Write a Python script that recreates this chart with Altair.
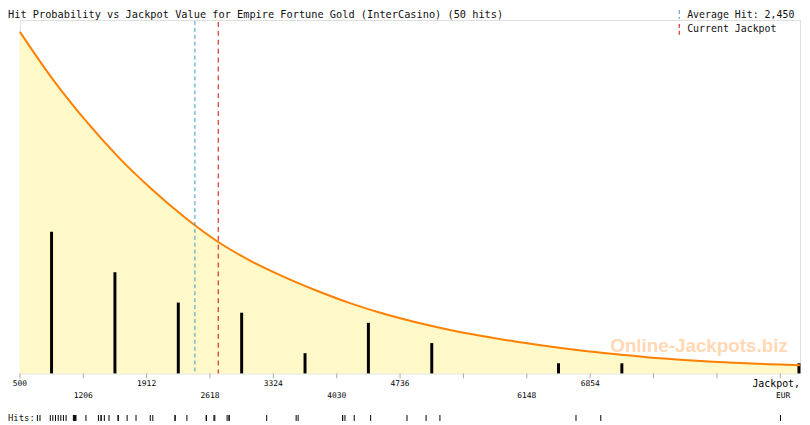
import altair as alt
import pandas as pd

title_text = "Hit Probability vs Jackpot Value for Empire Fortune Gold (InterCasino) (50 hits)"
x_domain = [500, 9192]
y_domain = [0, 34.93]

tick_values = [500, 1206, 1912, 2618, 3324, 4030, 4736, 5442, 6148, 6854, 7560, 8266, 8972]
labels_row1 = [500, 1912, 3324, 4736, 6854]
labels_row2 = [1206, 2618, 4030, 6148]

bin_centers = [853, 1559, 2265, 2971, 3677, 4383, 5089, 6501, 7207, 9180]
bin_counts = [14, 10, 7, 6, 2, 5, 3, 1, 1, 1]

curve_x = [500, 867, 1236, 1603, 1970, 2339, 2706, 3074, 3442, 3809, 4177, 4545,
           4912, 5280, 5648, 6016, 6383, 6751, 7119, 7486, 7854, 8222, 8589, 8957, 9192]
curve_y = [33.76, 29.06, 24.95, 21.33, 18.20, 15.41, 13.01, 11.11, 9.54, 8.17, 6.95,
           5.92, 5.06, 4.32, 3.70, 3.16, 2.68, 2.26, 1.91, 1.60, 1.36, 1.15, 1.00, 0.88, 0.80]

hits = [695, 724, 839, 867, 897, 927, 956, 985, 1015, 1096, 1103, 1110, 1118, 1125,
        1236, 1375, 1405, 1405, 1441, 1493, 1595, 1595, 1695, 1794,
        1953, 1981, 2229, 2229, 2361, 2577, 2577,
        2662, 2672, 2809, 2831, 2831, 3250,
        3578, 3600,
        4096, 4096, 4122, 4225, 4408,
        4813, 5026, 5180,
        6696, 6972, 8975]

average_hit = 2450
current_jackpot = 2710
legend_avg = "Average Hit: 2,450"
legend_cur = "Current Jackpot"
watermark = "Online-Jackpots.biz"

MONO = "DejaVu Sans Mono"
GRAY = "#aaaaaa"
W, H = 788, 357

xs = alt.Scale(domain=x_domain, nice=False, zero=False)
ys = alt.Scale(domain=y_domain, nice=False, zero=True)

curve_df = pd.DataFrame({"x": curve_x, "y": curve_y})
bars_df = pd.DataFrame({"x": bin_centers, "n": bin_counts})

area = alt.Chart(curve_df).mark_area(color="#FFF8C8", interpolate="monotone").encode(
    x=alt.X("x:Q", scale=xs, axis=None), y=alt.Y("y:Q", scale=ys, axis=None))

wm = alt.Chart(pd.DataFrame({"t": [watermark]})).mark_text(
    font="Liberation Sans", fontWeight="bold", fontSize=19, color="#FFD8B4",
    align="center", baseline="middle").encode(
    x=alt.value(686), y=alt.value(329), text="t:N")

bars = alt.Chart(bars_df).mark_rule(color="black", strokeWidth=3).encode(
    x=alt.X("x:Q", scale=xs, axis=None), y=alt.Y("n:Q", scale=ys, axis=None),
    y2=alt.datum(0))

line = alt.Chart(curve_df).mark_line(color="#FF8000", strokeWidth=2, interpolate="monotone").encode(
    x=alt.X("x:Q", scale=xs, axis=None), y=alt.Y("y:Q", scale=ys, axis=None))

avg_rule = alt.Chart(pd.DataFrame({"x": [average_hit]})).mark_rule(
    color="#3C96C8", strokeDash=[4, 3], strokeWidth=1).encode(
    x=alt.X("x:Q", scale=xs, axis=None), y=alt.value(1), y2=alt.value(H))

cur_rule = alt.Chart(pd.DataFrame({"x": [current_jackpot]})).mark_rule(
    color="#DD0000", strokeDash=[5, 4], strokeWidth=1).encode(
    x=alt.X("x:Q", scale=xs, axis=None), y=alt.value(2), y2=alt.value(H))

ticks = alt.Chart(pd.DataFrame({"x": tick_values})).mark_rule(color=GRAY).encode(
    x=alt.X("x:Q", scale=xs, axis=None), y=alt.value(H), y2=alt.value(H + 5))

lab1 = alt.Chart(pd.DataFrame({"x": labels_row1})).mark_text(
    font=MONO, fontSize=8, color="black", baseline="middle", align="center").encode(
    x=alt.X("x:Q", scale=xs, axis=None), y=alt.value(368), text=alt.Text("x:Q", format="d"))

lab2 = alt.Chart(pd.DataFrame({"x": labels_row2})).mark_text(
    font=MONO, fontSize=8, color="black", baseline="middle", align="center").encode(
    x=alt.X("x:Q", scale=xs, axis=None), y=alt.value(380), text=alt.Text("x:Q", format="d"))

jack = alt.Chart(pd.DataFrame({"t": ["Jackpot,"]})).mark_text(
    font=MONO, fontSize=10, color="black", baseline="middle", align="right").encode(
    x=alt.value(788), y=alt.value(367.5), text="t:N")

eur = alt.Chart(pd.DataFrame({"t": ["EUR"]})).mark_text(
    font=MONO, fontSize=8, color="black", baseline="middle", align="center").encode(
    x=alt.value(771), y=alt.value(380), text="t:N")

title = alt.Chart(pd.DataFrame({"t": [title_text]})).mark_text(
    font=MONO, fontSize=10.4, color="#111111", baseline="alphabetic", align="left").encode(
    x=alt.value(-12), y=alt.value(-2), text="t:N")

leg_avg_line = alt.Chart(pd.DataFrame({"t": [legend_avg]})).mark_rule(
    color="#3C96C8", strokeDash=[4, 3]).encode(
    x=alt.value(666), y=alt.value(-10), y2=alt.value(-1))
leg_cur_line = alt.Chart(pd.DataFrame({"t": [legend_cur]})).mark_rule(
    color="#DD0000", strokeDash=[4, 3]).encode(
    x=alt.value(666), y=alt.value(4), y2=alt.value(16))
leg_avg_txt = alt.Chart(pd.DataFrame({"t": [legend_avg]})).mark_text(
    font=MONO, fontSize=10, color="#111111", baseline="alphabetic", align="left").encode(
    x=alt.value(674), y=alt.value(-2), text="t:N")
leg_cur_txt = alt.Chart(pd.DataFrame({"t": [legend_cur]})).mark_text(
    font=MONO, fontSize=10, color="#111111", baseline="middle", align="left").encode(
    x=alt.value(674), y=alt.value(9), text="t:N")

hit_ticks = alt.Chart(pd.DataFrame({"x": hits})).mark_rule(color="black", strokeWidth=1).encode(
    x=alt.X("x:Q", scale=xs, axis=None), y=alt.value(399), y2=alt.value(405))
hits_lbl = alt.Chart(pd.DataFrame({"t": ["Hits:"]})).mark_text(
    font=MONO, fontSize=9, color="#111111", baseline="middle", align="left").encode(
    x=alt.value(-12), y=alt.value(402), text="t:N")

chart = alt.layer(
    area, wm, bars, line, avg_rule, cur_rule, ticks, lab1, lab2, jack, eur,
    title, leg_avg_line, leg_cur_line, leg_avg_txt, leg_cur_txt, hit_ticks, hits_lbl
).properties(
    width=W, height=H,
    padding={"left": 12, "top": 10, "right": 2, "bottom": 50},
    autosize=alt.AutoSizeParams(type="none"),
).configure_view(stroke=GRAY, strokeWidth=1).configure(background="white")

chart.save("out.html", embed_options={"renderer": "svg", "actions": False})
